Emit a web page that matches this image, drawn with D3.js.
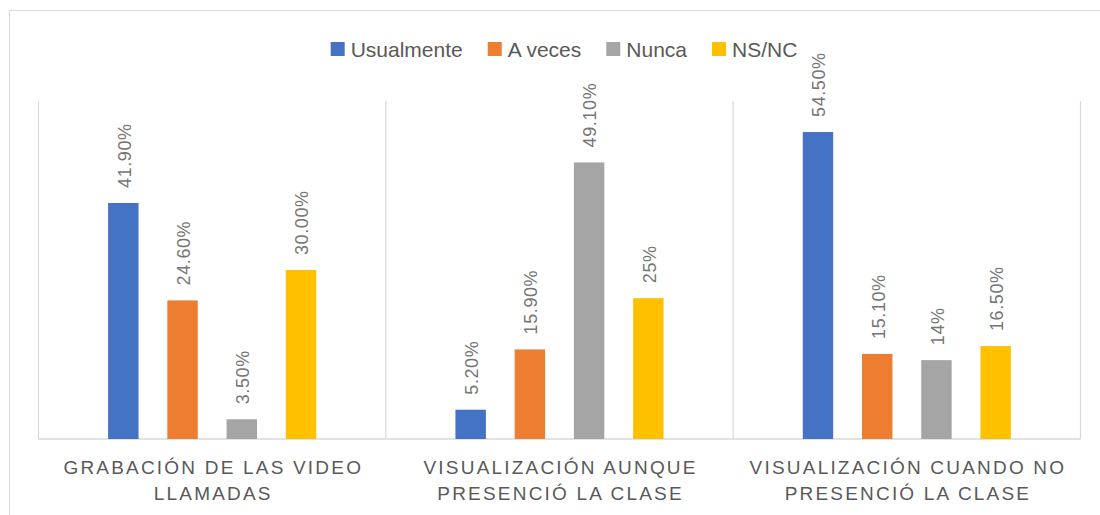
<!DOCTYPE html>
<html>
<head>
<meta charset="utf-8">
<script src="https://cdn.jsdelivr.net/npm/d3@7"></script>
<style>
  body { margin: 0; background: #fff; }
  svg text { font-family: "Liberation Sans", Arial, sans-serif; fill: #595959; }
</style>
</head>
<body>
<svg id="chart" width="1100" height="515"></svg>
<script>
// categories (x axis) and series
const categories = [
    'Grabación de las video llamadas',
    'Visualización aunque presenció la clase',
    'Visualización cuando no presenció la clase'
];
const seriesNames = ['Usualmente', 'A veces', 'Nunca', 'NS/NC'];
const seriesColors = ['#4472C4', '#ED7D31', '#A5A5A5', '#FFC000'];

const usualmente = [41.9, 5.2, 54.5];
const aVeces = [24.6, 15.9, 15.1];
const nunca = [3.5, 49.1, 14];
const nsnc = [30, 25, 16.5];

// data labels as printed on the chart
const usualmenteLabels = ['41.90%', '5.20%', '54.50%'];
const aVecesLabels = ['24.60%', '15.90%', '15.10%'];
const nuncaLabels = ['3.50%', '49.10%', '14%'];
const nsncLabels = ['30.00%', '25%', '16.50%'];

const yMax = 60;

const seriesValues = [usualmente, aVeces, nunca, nsnc];
const seriesLabels = [usualmenteLabels, aVecesLabels, nuncaLabels, nsncLabels];

const svg = d3.select('#chart');

// chart area border
svg.append('rect')
    .attr('x', 9.5).attr('y', 10.5)
    .attr('width', 1200).attr('height', 600)
    .attr('fill', 'none')
    .attr('stroke', '#D9D9D9');

const plot = { left: 38.5, right: 1080.5, top: 101, bottom: 439 };

const x0 = d3.scaleBand()
    .domain(categories)
    .range([plot.left, plot.right])
    .padding(0);

const x1 = d3.scaleBand()
    .domain(seriesNames)
    .range([0, x0.bandwidth()])
    .paddingInner(0.486)
    .paddingOuter(1.175);

const y = d3.scaleLinear()
    .domain([0, yMax])
    .range([plot.bottom, plot.top]);

// vertical separators between categories
const seps = [plot.left].concat(categories.map(c => x0(c) + x0.bandwidth()));
svg.append('g')
    .selectAll('line')
    .data(seps)
    .join('line')
    .attr('x1', d => d).attr('x2', d => d)
    .attr('y1', y(yMax)).attr('y2', plot.bottom)
    .attr('stroke', '#D9D9D9')
    .attr('stroke-width', 1.2);

// baseline
svg.append('line')
    .attr('x1', plot.left).attr('x2', plot.right)
    .attr('y1', plot.bottom).attr('y2', plot.bottom)
    .attr('stroke', '#D9D9D9')
    .attr('stroke-width', 1.5);

// flatten to bar records
const bars = [];
categories.forEach((cat, ci) => {
    seriesNames.forEach((s, si) => {
        bars.push({ cat, series: s, color: seriesColors[si], value: seriesValues[si][ci], label: seriesLabels[si][ci] });
    });
});

const groups = svg.append('g')
    .selectAll('g')
    .data(bars)
    .join('g');

groups.append('rect')
    .attr('x', d => x0(d.cat) + x1(d.series))
    .attr('y', d => y(d.value))
    .attr('width', x1.bandwidth())
    .attr('height', d => plot.bottom - y(d.value))
    .attr('fill', d => d.color);

groups.append('text')
    .attr('transform', d => {
        const cx = x0(d.cat) + x1(d.series) + x1.bandwidth() / 2 + 1;
        return `translate(${cx},${y(d.value) - 15}) rotate(-90)`;
    })
    .attr('dy', '0.35em')
    .attr('text-anchor', 'start')
    .style('font-size', '18px')
    .style('letter-spacing', '0.6px')
    .style('fill', '#767676')
    .text(d => d.label);

// category labels, uppercase and wrapped
const catG = svg.append('g');
categories.forEach(cat => {
    const cx = x0(cat) + x0.bandwidth() / 2;
    const words = cat.toUpperCase().split(' ');
    const maxW = x0.bandwidth() - 10;
    const lines = [];
    let line = [];
    const probe = catG.append('text')
        .style('font-size', '19px')
        .style('letter-spacing', '2.2px');
    words.forEach(w => {
        probe.text(line.concat(w).join(' '));
        if (line.length && probe.node().getComputedTextLength() > maxW) {
            lines.push(line.join(' '));
            line = [w];
        } else {
            line.push(w);
        }
    });
    lines.push(line.join(' '));
    probe.remove();

    lines.forEach((l, i) => {
        catG.append('text')
            .attr('x', cx + 1.1)
            .attr('y', 474 + i * 26)
            .attr('text-anchor', 'middle')
            .style('font-size', '19px')
            .style('letter-spacing', '2.2px')
            .text(l);
    });
});

// legend
const legend = svg.append('g');
const items = legend.selectAll('g')
    .data(seriesNames)
    .join('g');
items.append('rect')
    .attr('width', 14).attr('height', 14)
    .attr('y', 42)
    .attr('fill', (d, i) => seriesColors[i]);
items.append('text')
    .attr('x', 20)
    .attr('y', 56.5)
    .style('font-size', '21px')
    .text(d => d);

let offset = 0;
const widths = [];
items.each(function() {
    const w = 20 + d3.select(this).select('text').node().getComputedTextLength();
    widths.push(w);
});
const total = d3.sum(widths) + 25 * (widths.length - 1);
let start = 564 - total / 2;
items.attr('transform', (d, i) => {
    const t = `translate(${start + offset},0)`;
    offset += widths[i] + 25;
    return t;
});
</script>
</body>
</html>
